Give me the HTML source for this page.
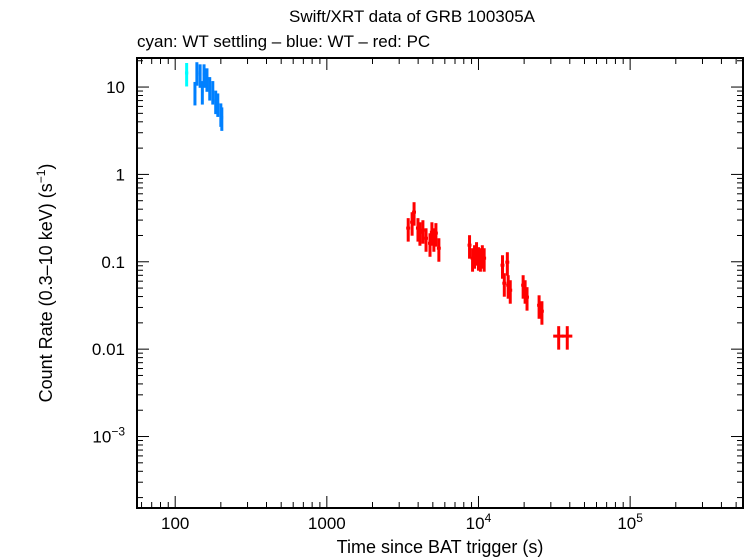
<!DOCTYPE html>
<html><head><meta charset="utf-8"><style>
body{margin:0;background:#fff;}
svg{display:block;font-family:"Liberation Sans",sans-serif;}
</style></head><body>
<svg id="chart" width="746" height="558">
<text x="412" y="22" font-size="17" text-anchor="middle">Swift/XRT data of GRB 100305A</text>
<text x="137" y="47" font-size="17">cyan: WT settling – blue: WT – red: PC</text>
<rect x="137" y="58" width="606" height="450" fill="none" stroke="#000" stroke-width="2"/>
<g id="ticks"></g>
<g id="marks"></g>
<text x="440" y="553" font-size="18" text-anchor="middle">Time since BAT trigger (s)</text>
<text transform="translate(52,283) rotate(-90)" font-size="18" text-anchor="middle">Count Rate (0.3–10 keV) (s<tspan dy="-7" font-size="12">−1</tspan><tspan dy="7">)</tspan></text>
</svg>
<script>
const xTickVals=[100,1000,1e4,1e5];
const xTickLabels=["100","1000","10^4","10^5"];
const yTickVals=[10,1,0.1,0.01,0.001];
const yTickLabels=["10","1","0.1","0.01","10^-3"];
const cyanT=[119];
const cyanR=[14.5];
const blueT=[135,139,146,151,155,162,169,177,185,191,200,203];
const blueR=[8.8,14.8,14,9,14,12.6,10,9,7,6.5,5,4.5];
const redT=[3440,3650,3760,3990,4110,4300,4510,4790,4930,5080,5240,5480,8730,9140,9420,9710,10000,10300,10600,10900,14400,14800,15500,15700,16200,19700,20300,20900,25100,26200,33800,38500];
const redR=[0.243,0.284,0.37,0.243,0.218,0.23,0.186,0.163,0.218,0.186,0.213,0.143,0.155,0.11,0.119,0.129,0.113,0.11,0.119,0.11,0.0914,0.0569,0.099,0.054,0.0473,0.054,0.0473,0.0394,0.0318,0.0272,0.0141,0.0141];
const redXErrFrac=0.03, wideXErr=0.08, yErrFrac=0.3;

const L=137,R=743,T=58,B=508;
const xMin=Math.log10(56),xMax=Math.log10(555000);
const yMin=Math.log10(0.000152),yMax=Math.log10(21.5);
const X=v=>L+(Math.log10(v)-xMin)/(xMax-xMin)*(R-L);
const Y=v=>B-(Math.log10(v)-yMin)/(yMax-yMin)*(B-T);
const NS="http://www.w3.org/2000/svg";
function mk(tag,attrs,parent){const e=document.createElementNS(NS,tag);for(const k in attrs)e.setAttribute(k,attrs[k]);parent.appendChild(e);return e;}
const tg=document.getElementById('ticks');
function lbl(txt,x,y,anchor){
  const t=mk('text',{x:x,y:y,'font-size':17,'text-anchor':anchor},tg);
  
  
  const m=txt.match(/^10\^(.+)$/);
  if(m){t.textContent='10';const s=document.createElementNS(NS,'tspan');s.setAttribute('dy','-7');s.setAttribute('font-size','12');s.textContent=m[1].replace('-','−');t.appendChild(s);}
  else t.textContent=txt;
}
for(let d=1;d<=5;d++){for(let m=1;m<10;m++){const v=m*Math.pow(10,d);const x=X(v);if(x<L||x>R)continue;const len=m===1?12:6;
  const a=mk('line',{x1:x,x2:x,y1:B,y2:B-len,stroke:'#000','stroke-width':1},tg);
  
  
  const b=mk('line',{x1:x,x2:x,y1:T,y2:T+len,stroke:'#000','stroke-width':1},tg);
  
  }}
xTickVals.forEach((v,i)=>lbl(xTickLabels[i],X(v),529,'middle'));
for(let d=-4;d<=1;d++){for(let m=1;m<10;m++){const v=m*Math.pow(10,d);const y=Y(v);if(y<T||y>B)continue;const len=m===1?12:6;
  const a=mk('line',{x1:L,x2:L+len,y1:y,y2:y,stroke:'#000','stroke-width':1},tg);
  
  
  const b=mk('line',{x1:R,x2:R-len,y1:y,y2:y,stroke:'#000','stroke-width':1},tg);
  
  }}
yTickVals.forEach((v,i)=>lbl(yTickLabels[i],125,Y(v)+6,'end'));
const mg=document.getElementById('marks');
function series(ts,rs,col,name,xf){
  ts.forEach((t,i)=>{const r=rs[i];const g=mk('g',{stroke:col,'stroke-width':3},mg);
    
    
    const f=(i>=ts.length-2&&name==='pc')?wideXErr:xf;
    mk('line',{x1:X(t*(1-f)),x2:X(t*(1+f)),y1:Y(r),y2:Y(r)},g);
    mk('line',{x1:X(t),x2:X(t),y1:Y(r*(1+yErrFrac)),y2:Y(r*(1-yErrFrac))},g);});
}
series(cyanT,cyanR,'#00ffff','wt-settling',0.025);
series(blueT,blueR,'#0080ff','wt',0.02);
series(redT,redR,'#ff0000','pc',redXErrFrac);
</script>
</body></html>
